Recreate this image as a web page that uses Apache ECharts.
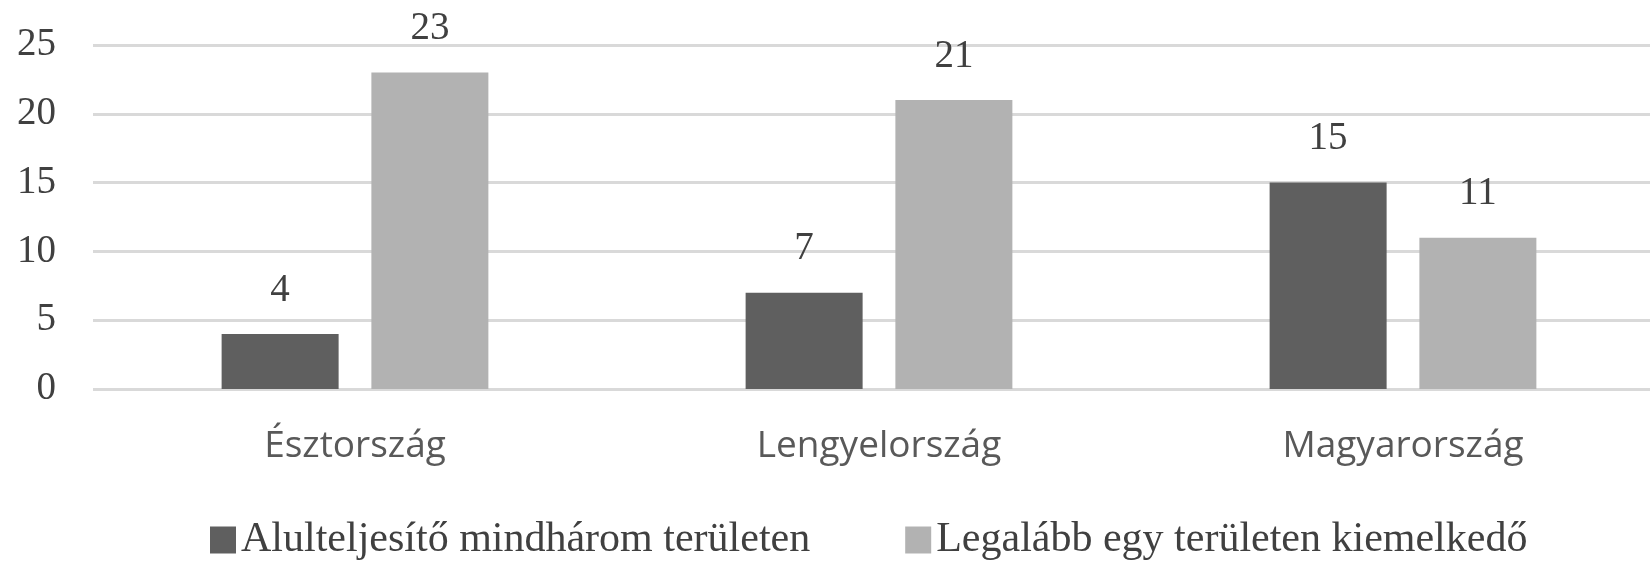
<html>
    <head>
        <meta http-equiv="Content-Type" content="text/html; charset=utf-8" />
        <title></title>
        <style>
            body { margin: 0; background: #fff; }
        </style>
    </head>
    <body>
        <div id="main" style="width: 1650px;height:561px;"></div>
    </body>
    <script src="https://cdn.jsdelivr.net/npm/echarts@6/dist/echarts.min.js" type="text/javascript"></script>
    <script type="text/javascript">
    // adatok
    var orszagok = ['Észtország', 'Lengyelország', 'Magyarország'];
    var alulteljesito = [4, 7, 15];
    var kiemelkedo = [23, 21, 11];
    var sorNevek = ['Alulteljesítő mindhárom területen', 'Legalább egy területen kiemelkedő'];

    var serif = '"Liberation Serif", "DejaVu Serif", serif';
    var myChart = echarts.init(document.getElementById('main'));

    function cimke() {
        return {
            show: true,
            position: 'top',
            distance: 24,
            fontFamily: serif,
            fontSize: 39,
            color: '#404040'
        };
    }

    myChart.setOption({
        animation: false,
        grid: {
            left: 93,
            width: 1572,
            top: 45,
            height: 344,
            outerBoundsMode: 'none'
        },
        legend: {
            left: 205,
            top: 514,
            itemWidth: 26,
            itemHeight: 27,
            itemGap: 95,
            icon: 'rect',
            textStyle: {
                fontFamily: serif,
                fontSize: 42,
                color: '#404040'
            },
            data: sorNevek
        },
        xAxis: {
            type: 'category',
            data: orszagok,
            axisLine: { show: false },
            axisTick: { show: false },
            axisLabel: {
                margin: 39,
                fontFamily: '"Open Sans", sans-serif',
                fontSize: 37,
                color: '#595959'
            }
        },
        yAxis: {
            type: 'value',
            min: 0,
            max: 25,
            interval: 5,
            axisLine: { show: false },
            axisTick: { show: false },
            axisLabel: {
                margin: 37,
                fontFamily: serif,
                fontSize: 39,
                color: '#404040'
            },
            splitLine: {
                lineStyle: { color: '#d9d9d9', width: 3 }
            }
        },
        series: [
            {
                name: sorNevek[0],
                type: 'bar',
                barWidth: 117,
                barGap: '28%',
                data: alulteljesito,
                itemStyle: { color: '#5f5f5f' },
                label: cimke()
            },
            {
                name: sorNevek[1],
                type: 'bar',
                barWidth: 117,
                barGap: '28%',
                data: kiemelkedo,
                itemStyle: { color: '#b2b2b2' },
                label: cimke()
            }
        ]
    });
    </script>
</html>
